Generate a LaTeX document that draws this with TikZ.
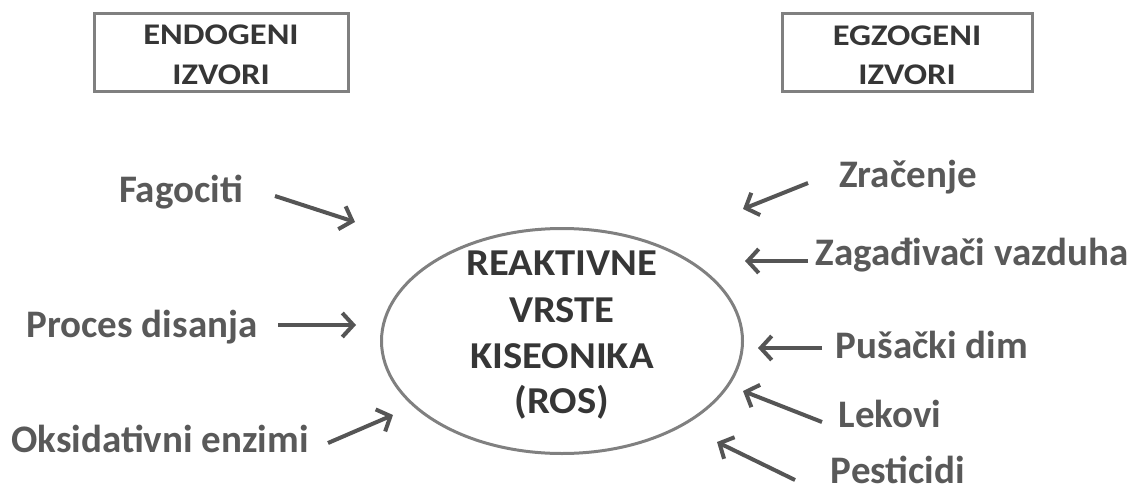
\documentclass[tikz,border=0pt]{standalone}
\usepackage{fontspec}
\setmainfont{Carlito}
\usetikzlibrary{arrows.meta,shapes.geometric}
\definecolor{lblgray}{HTML}{595959}
\definecolor{dark}{HTML}{363636}
\definecolor{linegray}{HTML}{808080}
\definecolor{arrgray}{HTML}{555555}
\tikzset{
  lbl/.style={inner sep=0pt, anchor=base, text=lblgray, font=\fontsize{39}{44}\selectfont\bfseries},
  boxtxt/.style={inner sep=0pt, anchor=base, text=dark, xscale=1.15, font=\fontsize{30}{34}\selectfont\bfseries},
  rostxt/.style={inner sep=0pt, anchor=base, text=dark, xscale=1.07, font=\fontsize{38}{42}\selectfont\bfseries},
  srcbox/.style={draw=linegray, line width=3pt},
  arr/.style={draw=arrgray, line width=4pt, -{Straight Barb[length=11pt,width=24pt]}},
}
\begin{document}
\begin{tikzpicture}[x=1pt,y=-1pt]
\useasboundingbox (0,0) rectangle (1139,500);
% source boxes
\node[srcbox, minimum width=254pt, minimum height=78pt, inner sep=0pt] (endo) at (221,53) {};
\node[srcbox, minimum width=250pt, minimum height=78pt, inner sep=0pt] (egzo) at (907,53) {};
\node[boxtxt, transform shape] (endo1) at (221,45) {ENDOGENI};
\node[boxtxt, transform shape] (endo2) at (221,85) {IZVORI};
\node[boxtxt, transform shape] (egzo1) at (907,46) {EGZOGENI};
\node[boxtxt, transform shape] (egzo2) at (907,85) {IZVORI};
% central ellipse
\node[ellipse, draw=linegray, line width=3pt, minimum width=361pt, minimum height=225pt, inner sep=0pt] (ros) at (562,341) {};
\node[rostxt, transform shape] (r1) at (562,275) {REAKTIVNE};
\node[rostxt, transform shape] (r2) at (562,322) {VRSTE};
\node[rostxt, transform shape] (r3) at (562,368) {KISEONIKA};
\node[rostxt, transform shape] (r4) at (562,413) {(ROS)};
% labels
\node[lbl] (fag) at (181,202) {Fagociti};
\node[lbl] (proc) at (142,337) {Proces disanja};
\node[lbl] (oks) at (160,452) {Oksidativni enzimi};
\node[lbl] (zra) at (908,187) {Zračenje};
\node[lbl] (zag) at (972,265) {Zagađivači vazduha};
\node[lbl] (pus) at (932,358) {Pušački dim};
\node[lbl] (lek) at (890,427) {Lekovi};
\node[lbl] (pes) at (898,483) {Pesticidi};
% arrow endpoints
\coordinate (a1s) at (275,196); \coordinate (a1e) at (355,222);
\coordinate (a2s) at (278,325); \coordinate (a2e) at (356,325);
\coordinate (a3s) at (328,443); \coordinate (a3e) at (393,415);
\coordinate (a4s) at (808,183); \coordinate (a4e) at (743,209);
\coordinate (a5s) at (808,261); \coordinate (a5e) at (745,261);
\coordinate (a6s) at (822,348); \coordinate (a6e) at (758,348);
\coordinate (a7s) at (822,422); \coordinate (a7e) at (743,391);
\coordinate (a8s) at (795,480); \coordinate (a8e) at (717,442);
\draw[arr] (a1s) -- (a1e);
\draw[arr] (a2s) -- (a2e);
\draw[arr] (a3s) -- (a3e);
\draw[arr] (a4s) -- (a4e);
\draw[arr] (a5s) -- (a5e);
\draw[arr] (a6s) -- (a6e);
\draw[arr] (a7s) -- (a7e);
\draw[arr] (a8s) -- (a8e);
\end{tikzpicture}
\end{document}
